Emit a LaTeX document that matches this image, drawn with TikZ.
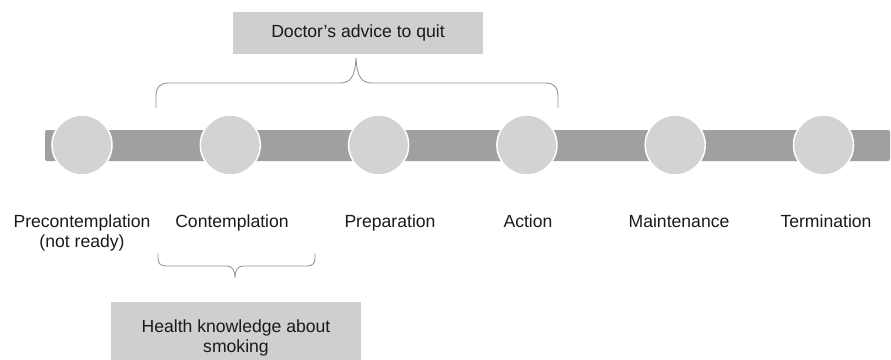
\documentclass[tikz,border=0pt]{standalone}
\usepackage{fontspec}
\setmainfont{Liberation Sans}
\usetikzlibrary{positioning}
\definecolor{bargray}{HTML}{A0A0A0}
\definecolor{stagegray}{HTML}{D3D3D3}
\definecolor{boxgray}{HTML}{D0CECE}
\definecolor{bracegray}{HTML}{959595}
\definecolor{textgray}{HTML}{1A1A1A}
\tikzset{
  stage/.style={circle, fill=stagegray, draw=white, line width=1.5pt, minimum size=60pt, inner sep=0pt},
  stagelabel/.style={anchor=north, align=center, inner sep=0pt, text height=13pt, text=textgray},
  infobox/.style={fill=boxgray, minimum width=250pt, align=center, text=textgray, inner sep=0pt},
  bracket/.style={draw=bracegray, line width=0.9pt}
}

\begin{document}
\begin{tikzpicture}[x=1pt,y=-1pt,font=\fontsize{17.6}{20.5}\selectfont]
\useasboundingbox (0,0) rectangle (891,359);
% timeline bar
\fill[bargray, rounded corners=2pt] (45,130) rectangle (890,161);
\foreach \i in {1,...,6}
    \node[stage] (s\i) at ({82+148.3*(\i-1)},145) {};
% stage names
\node[stagelabel, text height=33.5pt] (l1) at (82,214) {Precontemplation\\(not ready)};
\node[stagelabel] (l2) at (232,214) {Contemplation};
\node[stagelabel] (l3) at (390,214) {Preparation};
\node[stagelabel] (l4) at (528,214) {Action};
\node[stagelabel] (l5) at (679,214) {Maintenance};
\node[stagelabel] (l6) at (826,214) {Termination};
% interventions
\node[infobox, minimum height=42pt] (advice) at (358,33) {Doctor’s advice to quit};
\node[infobox, minimum height=71pt, anchor=north] (knowledge) at (236,302) {Health knowledge about\\smoking};
% braces
\coordinate (atl) at (156,108);
\coordinate (atip) at (356,58);
\coordinate (atr) at (558,108);
\draw[bracket] (atl) -- (156,96) .. controls (156,87) and (160,83) .. (169,83)
    -- (340,83) .. controls (351,83) and (355,76) .. (atip)
    .. controls (357,76) and (361,83) .. (372,83)
    -- (545,83) .. controls (554,83) and (558,87) .. (558,96) -- (atr);
\coordinate (kbl) at (158,253);
\coordinate (ktip) at (235,278);
\coordinate (kbr) at (315,253);
\draw[bracket] (kbl) -- (158,258) .. controls (158,263) and (160,266) .. (166,266)
    -- (227,266) .. controls (232,266) and (235,270) .. (ktip)
    .. controls (235,270) and (238,266) .. (243,266)
    -- (307,266) .. controls (313,266) and (315,263) .. (315,258) -- (kbr);
\end{tikzpicture}
\end{document}
